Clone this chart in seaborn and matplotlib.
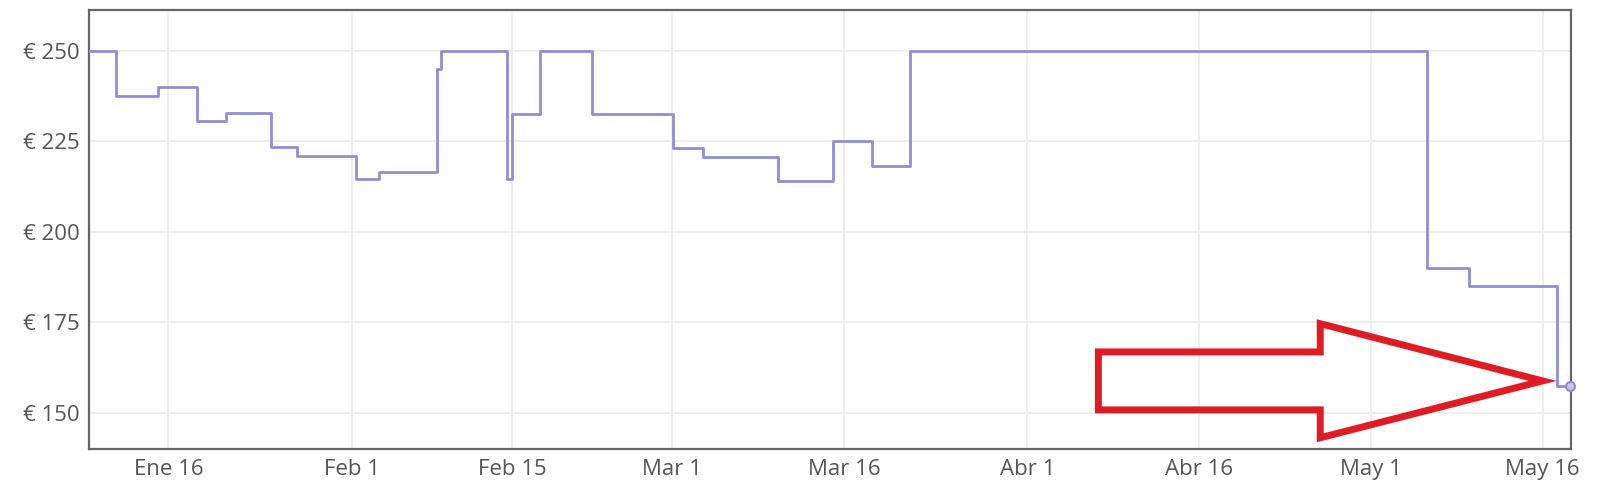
import seaborn as sns
import matplotlib.pyplot as plt
import matplotlib.dates as mdates
from matplotlib.patches import Polygon
import pandas as pd

# price changes (date of change, price after change)
change_dates = [
    "2023-01-08 00:00", "2023-01-11 10:00", "2023-01-15 02:00", "2023-01-18 12:00",
    "2023-01-21 00:00", "2023-01-24 22:00", "2023-01-27 05:00", "2023-02-01 10:00",
    "2023-02-03 10:00", "2023-02-08 10:00", "2023-02-08 19:00", "2023-02-14 13:00",
    "2023-02-15 00:00", "2023-02-17 10:00", "2023-02-22 00:00", "2023-03-01 02:00",
    "2023-03-03 17:00", "2023-03-10 05:00", "2023-03-15 00:00", "2023-03-18 10:00",
    "2023-03-21 19:00", "2023-05-05 22:00", "2023-05-09 14:00", "2023-05-17 07:00",
    "2023-05-18 10:00",
]
prices = [
    250, 237.5, 240, 230.5,
    232.8, 223.3, 221, 214.5,
    216.6, 244.8, 250, 214.6,
    232.4, 250, 232.4, 223,
    220.7, 214.1, 225, 218.2,
    250, 190, 185, 157.4,
    157.4,
]

tick_dates = ["2023-01-16", "2023-02-01", "2023-02-15", "2023-03-01", "2023-03-16",
              "2023-04-01", "2023-04-16", "2023-05-01", "2023-05-16"]
tick_labels = ["Ene 16", "Feb 1", "Feb 15", "Mar 1", "Mar 16",
               "Abr 1", "Abr 16", "May 1", "May 16"]
price_ticks = [150, 175, 200, 225, 250]

# hand-drawn red arrow outline (date, price)
arrow_dates = ["2023-04-07 05:00", "2023-04-26 14:00", "2023-04-26 14:00", "2023-05-16 00:00",
               "2023-04-26 14:00", "2023-04-26 14:00", "2023-04-07 05:00"]
arrow_prices = [166.8, 166.8, 174.6, 158.8, 143.1, 150.8, 150.8]

df = pd.DataFrame({"fecha": pd.to_datetime(change_dates), "precio": prices})

sns.set_theme(style="whitegrid")
plt.rcParams["font.family"] = ["Open Sans", "DejaVu Sans"]

line_color = "#8e8ed8"

fig = plt.figure(figsize=(16, 4.94), dpi=100)
ax = fig.add_axes([0.0558, 0.0911, 0.9262, 0.8887])

sns.lineplot(data=df, x="fecha", y="precio", ax=ax, color=line_color,
             linewidth=2.0, drawstyle="steps-post", zorder=3)
last = df.iloc[-1]
ax.plot([last["fecha"]], [last["precio"]], marker="o", markersize=6.5,
        markerfacecolor="#c8c8ee", markeredgecolor=line_color, markeredgewidth=1.5,
        zorder=4, clip_on=False)

arrow_xy = list(zip(mdates.date2num(pd.to_datetime(arrow_dates)), arrow_prices))
ax.add_patch(Polygon(arrow_xy, closed=True, fill=False, edgecolor="#e01b24",
                     linewidth=5.0, joinstyle="miter", zorder=5))

ax.set_xlim(pd.Timestamp("2023-01-09 02:00"), pd.Timestamp("2023-05-18 12:00"))
ax.set_ylim(140, 261.2)

ax.set_xticks(pd.to_datetime(tick_dates))
ax.set_xticklabels(tick_labels)
ax.set_yticks(price_ticks)
ax.set_yticklabels([f"€ {p}" for p in price_ticks])

ax.set_xlabel("")
ax.set_ylabel("")
ax.tick_params(axis="both", length=0, labelsize=16, labelcolor="#555555")
ax.tick_params(axis="x", pad=7)
ax.tick_params(axis="y", pad=7)
ax.grid(True, color="#ebebeb", linewidth=1.2)
for s in ax.spines.values():
    s.set_visible(True)
    s.set_color("#666666")
    s.set_linewidth(1.6)
ax.set_facecolor("white")

fig.savefig("out.png", dpi=100, facecolor="white")
